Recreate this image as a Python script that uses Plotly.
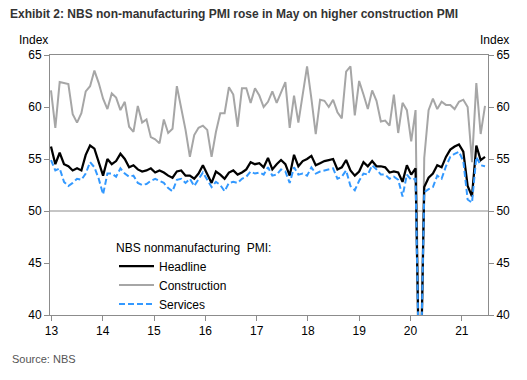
import plotly.graph_objects as go

# ---------------- data (monthly, Jan 2013 - May 2021) ----------------
headline = [
    56.2, 54.5, 55.6, 54.5, 54.3, 53.9, 54.1, 53.9, 55.4, 56.3, 56.0, 54.6,
    53.4, 55.0, 54.5, 54.8, 55.5, 55.0, 54.2, 54.4, 54.0, 53.8, 53.9, 54.1,
    53.7, 53.9, 53.7, 53.4, 53.2, 53.8, 53.9, 53.4, 53.4, 53.1, 53.6, 54.4,
    53.5, 52.7, 53.8, 53.5, 53.1, 53.7, 53.9, 53.5, 53.7, 54.0, 54.7, 54.5,
    54.6, 54.2, 55.1, 54.0, 54.5, 54.9, 54.5, 53.4, 55.4, 54.3, 54.8, 55.0,
    55.3, 54.4, 54.6, 54.8, 54.9, 55.0, 54.0, 54.2, 54.9, 53.9, 53.4, 53.8,
    54.7, 54.3, 54.8, 54.3, 54.3, 54.2, 53.7, 53.8, 53.7, 52.8, 54.4, 53.5,
    54.1, 29.6, 52.3, 53.2, 53.6, 54.4, 54.2, 55.2, 55.9, 56.2, 56.4, 55.7,
    52.4, 51.4, 56.3, 54.9, 55.2,
]
construction = [
    61.6, 58.0, 62.4, 62.3, 62.2, 59.3, 58.5, 59.4, 61.5, 62.0, 63.5, 62.3,
    60.8, 59.8, 61.3, 60.9, 59.7, 60.5, 58.1, 57.6, 60.1, 58.5, 58.8, 57.1,
    56.9, 56.5, 58.8, 57.5, 57.9, 62.0, 60.0, 57.8, 55.2, 57.3, 58.0, 58.2,
    57.8, 55.2, 57.6, 59.4, 59.4, 61.9, 61.2, 58.1, 61.8, 61.8, 60.4, 61.8,
    61.1, 60.0, 60.5, 61.5, 60.4, 61.5, 62.4, 58.0, 61.1, 58.5, 61.2, 63.9,
    60.8, 57.4, 60.7, 60.6, 60.0, 60.7, 59.5, 58.9, 63.4, 63.9, 59.2, 62.5,
    61.2, 59.8, 61.6, 60.6, 58.6, 58.7, 58.2, 61.2, 57.5, 60.4, 59.7, 56.7,
    59.7, 26.6, 55.1, 59.7, 60.8, 59.8, 60.5, 60.2, 60.2, 59.8, 60.5, 60.7,
    60.0, 54.7, 62.3, 57.4, 60.1,
]
services = [
    54.9, 53.9, 54.1, 52.8, 52.4, 52.7, 53.1, 53.0, 53.6, 54.7, 54.2, 53.1,
    51.6, 53.6, 53.6, 53.3, 54.1, 53.6, 53.3, 53.4, 52.7, 52.5, 52.6, 52.9,
    53.1, 52.9, 52.7, 52.2, 51.9, 53.0, 53.1, 52.7, 53.1, 52.4, 53.0, 53.7,
    53.0, 52.3, 52.8, 52.5, 51.9, 52.7, 52.8, 52.7, 53.1, 53.3, 53.8, 53.6,
    53.7, 53.5, 54.2, 53.4, 53.5, 54.0, 53.8, 52.7, 54.2, 53.5, 53.6, 53.4,
    54.2, 53.6, 53.8, 53.9, 54.0, 54.1, 53.1, 53.3, 53.9, 52.4, 52.0, 52.9,
    53.6, 53.5, 54.4, 54.0, 53.5, 53.5, 53.1, 53.3, 53.0, 51.4, 53.5, 53.0,
    53.1, 30.1, 51.8, 52.1, 52.3, 53.4, 53.1, 54.3, 55.2, 55.5, 55.7, 54.8,
    51.1, 50.8, 55.2, 54.4, 54.3,
]
month_index = list(range(len(headline)))
year_labels = ["13", "14", "15", "16", "17", "18", "19", "20", "21"]
y_ticks = [40, 45, 50, 55, 60, 65]

# ---------------- styling ----------------
FONT = "Liberation Sans, Arial, sans-serif"
AXIS_GREY = "#8c8c8c"
tick_pos = [i * 11.82 + 0.1 for i in range(len(year_labels))]

# the page body has an 8px default margin; figure is sized to fit the window
W, H = 519, 372
ML, MT, MR, MB = 42, 47, 39, 65
PLOT_H = H - MT - MB  # 260
PLOT_W = W - ML - MR  # 438

fig = go.Figure()
fig.add_trace(go.Scatter(x=month_index, y=construction, mode="lines", name="Construction",
                         line=dict(color="#a6a6a6", width=2), legendrank=2))
fig.add_trace(go.Scatter(x=month_index, y=headline, mode="lines", name="Headline",
                         line=dict(color="#000000", width=2.25), legendrank=1))
fig.add_trace(go.Scatter(x=month_index, y=services, mode="lines", name="Services",
                         line=dict(color="#3399ff", width=2, dash="6px,3px"),
                         legendrank=3, yaxis="y2"))

axis_common = dict(range=[40, 65], tickvals=y_ticks, showgrid=False, zeroline=False,
                   showline=True, linecolor=AXIS_GREY, linewidth=1,
                   ticks="outside", ticklen=5, tickcolor=AXIS_GREY,
                   tickfont=dict(family=FONT, size=12, color="#000"))


def py(pixel_y):
    """convert a window pixel y (top of plot area at 55) into paper coords"""
    return (315 - pixel_y) / PLOT_H


def px(pixel_x):
    return (pixel_x - 50) / PLOT_W


fig.update_layout(
    width=W, height=H,
    margin=dict(l=ML, r=MR, t=MT, b=MB),
    paper_bgcolor="white", plot_bgcolor="white",
    font=dict(family=FONT, size=12, color="#000"),
    title=dict(text="<b>Exhibit 2: NBS non-manufacturing PMI rose in May on higher construction PMI</b>",
               x=2 / W, xanchor="left", xref="container",
               y=1 - 6 / H, yanchor="middle", yref="container",
               font=dict(family=FONT, size=12, color="#333333")),
    xaxis=dict(range=[-0.23, 100.69], tickvals=tick_pos, ticktext=year_labels,
               showgrid=False, zeroline=False, showline=True, mirror=True,
               linecolor=AXIS_GREY, linewidth=1, ticks="outside", ticklen=5,
               tickcolor=AXIS_GREY, tickfont=dict(family=FONT, size=12, color="#000")),
    yaxis=dict(side="left", **axis_common),
    yaxis2=dict(side="right", overlaying="y", **axis_common),
    showlegend=True,
    legend=dict(x=px(114), y=py(236), xanchor="left", yanchor="top",
                bgcolor="rgba(0,0,0,0)", borderwidth=0, itemwidth=35,
                font=dict(family=FONT, size=12, color="#000"),
                title=dict(text="NBS nonmanufacturing\u00a0 PMI:",
                           font=dict(family=FONT, size=12, color="#000")),
                tracegroupgap=0),
    shapes=[dict(type="line", xref="paper", x0=0, x1=1, yref="y", y0=50, y1=50,
                 line=dict(color=AXIS_GREY, width=1), layer="below")],
    annotations=[
        dict(text="Index", xref="paper", yref="paper", x=0, y=py(40),
             xanchor="right", yanchor="middle", showarrow=False,
             font=dict(family=FONT, size=12, color="#000")),
        dict(text="Index", xref="paper", yref="paper", x=px(478), y=py(40),
             xanchor="left", yanchor="middle", showarrow=False,
             font=dict(family=FONT, size=12, color="#000")),
        dict(text="Source: NBS", xref="paper", yref="paper", x=px(10), y=py(359),
             xanchor="left", yanchor="middle", showarrow=False,
             font=dict(family=FONT, size=11, color="#555555")),
    ],
)

fig.write_html("out.html")
